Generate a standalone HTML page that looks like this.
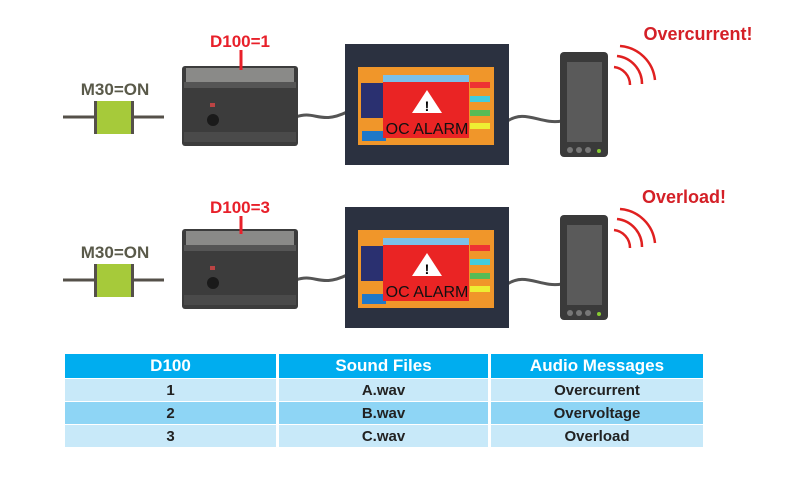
<!DOCTYPE html>
<html><head><meta charset="utf-8"><style>
html,body{margin:0;padding:0;background:#fff;}
body{width:808px;height:489px;overflow:hidden;position:relative;font-family:"Liberation Sans",Arial,sans-serif;}
table{position:absolute;left:65px;top:353px;border-collapse:separate;border-spacing:3px 1px;margin-left:-3px;}
td{font-weight:bold;text-align:center;color:#222;font-size:15px;height:22px;padding:0;}
tr.h td{background:#00adef;color:#fff;font-size:17px;height:24px;}
tr.a td{background:#c8e9f9;}
tr.b td{background:#8ed5f5;}
</style></head><body>
<svg width="808" height="489" style="position:absolute;left:0;top:0">
<defs>
<g id="row">
  <text x="115" y="95" font-family="Liberation Sans" font-weight="bold" font-size="17" fill="#5a5a4a" text-anchor="middle">M30=ON</text>
  <line x1="63" y1="117" x2="164" y2="117" stroke="#555049" stroke-width="3"/>
  <rect x="94" y="101" width="40" height="33" fill="#a6ca3a"/>
  <line x1="95.5" y1="101" x2="95.5" y2="134" stroke="#555049" stroke-width="3"/>
  <line x1="132.5" y1="101" x2="132.5" y2="134" stroke="#555049" stroke-width="3"/>
  <path d="M296 117 C 315 110, 320 125, 347 112" stroke="#555" stroke-width="3" fill="none"/>
  <path d="M506 122 C 525 108, 540 125, 562 121" stroke="#555" stroke-width="3" fill="none"/>
  <rect x="182" y="66" width="116" height="80" rx="3" fill="#3c3c3c"/>
  <rect x="186" y="68" width="108" height="14" fill="#8a8a88"/>
  <rect x="184" y="82" width="112" height="6" fill="#555"/>
  <rect x="184" y="132" width="112" height="10" fill="#4a4a4a"/>
  <circle cx="213" cy="120" r="6" fill="#1a1a1a"/>
  <rect x="210" y="103" width="5" height="4" fill="#b44"/>
  <rect x="345" y="44" width="164" height="121" fill="#2b3140"/>
  <rect x="358" y="67" width="136" height="78" fill="#f0962a"/>
  <rect x="361" y="83" width="24" height="35" fill="#2a3070"/>
  <rect x="362" y="131" width="24" height="10" fill="#1f78c8"/>
  <rect x="470" y="82" width="20" height="6" fill="#e33"/>
  <rect x="470" y="96" width="20" height="6" fill="#4cd"/>
  <rect x="470" y="110" width="20" height="6" fill="#5b5"/>
  <rect x="470" y="123" width="20" height="6" fill="#ee3"/>
  <rect x="383" y="75" width="86" height="63" fill="#ea2424"/>
  <rect x="383" y="75" width="86" height="7" fill="#7bc0e8"/>
  <polygon points="427,90 442,113 412,113" fill="#fff"/>
  <text x="427" y="111" font-family="Liberation Sans" font-weight="bold" font-size="14" text-anchor="middle" fill="#000">!</text>
  <text x="427" y="134" font-family="Liberation Sans" font-size="16" text-anchor="middle" fill="#111">OC ALARM</text>
  <rect x="560" y="52" width="48" height="105" rx="4" fill="#3a3a3a"/>
  <rect x="567" y="62" width="35" height="80" fill="#5a5a5a"/>
  <circle cx="570" cy="150" r="3" fill="#777"/><circle cx="579" cy="150" r="3" fill="#777"/><circle cx="588" cy="150" r="3" fill="#777"/>
  <circle cx="599" cy="151" r="2" fill="#8c3"/>
  <path d="M620 46 A 38 38 0 0 1 655 80" stroke="#e02020" stroke-width="2.5" fill="none"/>
  <path d="M617 56 A 28 28 0 0 1 642 84" stroke="#e02020" stroke-width="2.5" fill="none"/>
  <path d="M614 67 A 18 18 0 0 1 630 85" stroke="#e02020" stroke-width="2.5" fill="none"/>
</g>
</defs>
<use href="#row"/>
<use href="#row" transform="translate(0,163)"/>
<text x="240" y="47" font-family="Liberation Sans" font-weight="bold" font-size="17" fill="#e8202a" text-anchor="middle">D100=1</text>
<line x1="241" y1="50" x2="241" y2="70" stroke="#e8202a" stroke-width="3"/>
<text x="240" y="213" font-family="Liberation Sans" font-weight="bold" font-size="17" fill="#e8202a" text-anchor="middle">D100=3</text>
<line x1="241" y1="216" x2="241" y2="234" stroke="#e8202a" stroke-width="3"/>
<text x="698" y="40" font-family="Liberation Sans" font-weight="bold" font-size="18" fill="#d42027" text-anchor="middle">Overcurrent!</text>
<text x="684" y="203" font-family="Liberation Sans" font-weight="bold" font-size="18" fill="#d42027" text-anchor="middle">Overload!</text>
</svg>
<table>
<tr class="h"><td style="width:211px">D100</td><td style="width:209px">Sound Files</td><td style="width:212px">Audio Messages</td></tr>
<tr class="a"><td>1</td><td>A.wav</td><td>Overcurrent</td></tr>
<tr class="b"><td>2</td><td>B.wav</td><td>Overvoltage</td></tr>
<tr class="a"><td>3</td><td>C.wav</td><td>Overload</td></tr>
</table>
</body></html>
